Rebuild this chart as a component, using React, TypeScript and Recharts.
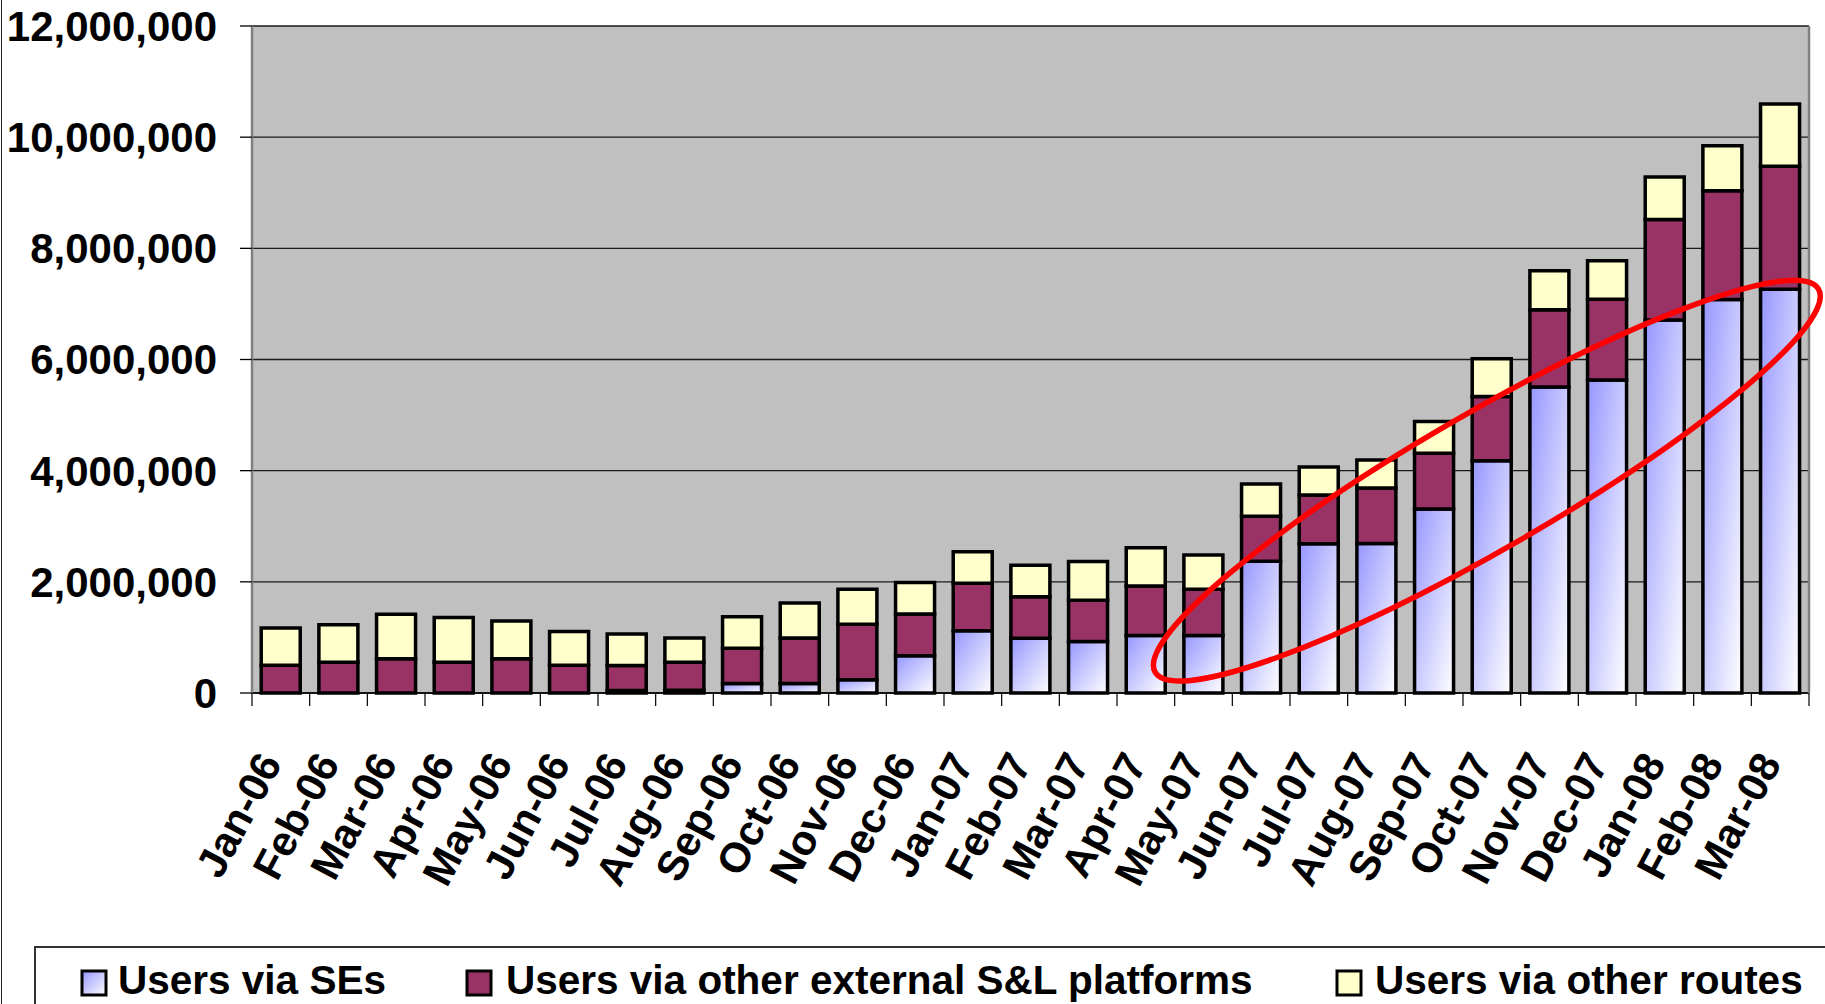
import React from 'react';
import { BarChart, Bar, XAxis, YAxis, CartesianGrid, ReferenceDot } from 'recharts';

// ---------- data ----------
const months = [
  'Jan-06', 'Feb-06', 'Mar-06', 'Apr-06', 'May-06', 'Jun-06', 'Jul-06', 'Aug-06', 'Sep-06',
  'Oct-06', 'Nov-06', 'Dec-06', 'Jan-07', 'Feb-07', 'Mar-07', 'Apr-07', 'May-07', 'Jun-07',
  'Jul-07', 'Aug-07', 'Sep-07', 'Oct-07', 'Nov-07', 'Dec-07', 'Jan-08', 'Feb-08', 'Mar-08',
];

const usersViaSEs = [
  0, 0, 0, 0, 0, 0, 45000, 50000, 170000,
  170000, 240000, 670000, 1120000, 985000, 925000, 1035000, 1035000, 2370000,
  2685000, 2690000, 3310000, 4180000, 5505000, 5630000, 6710000, 7080000, 7265000,
];

const usersViaOtherSL = [
  500000, 555000, 615000, 555000, 615000, 500000, 450000, 505000, 635000,
  820000, 995000, 750000, 855000, 745000, 745000, 890000, 830000, 810000,
  875000, 1000000, 1005000, 1155000, 1390000, 1455000, 1810000, 1955000, 2210000,
];

const usersViaOtherRoutes = [
  670000, 675000, 800000, 805000, 680000, 605000, 565000, 435000, 565000,
  630000, 630000, 570000, 565000, 570000, 695000, 690000, 620000, 580000,
  505000, 500000, 570000, 680000, 700000, 690000, 765000, 810000, 1120000,
];

const yTicks = [0, 2000000, 4000000, 6000000, 8000000, 10000000, 12000000];

const seriesNames = ['Users via SEs', 'Users via other external S&L platforms', 'Users via other routes'];

// annotation ellipse centre (category, value)
const ellipseCentreMonth = 'Oct-07';
const ellipseCentreValue = 3820000;

const data = months.map((m, i) => ({
  month: m,
  se: usersViaSEs[i],
  sl: usersViaOtherSL[i],
  other: usersViaOtherRoutes[i],
}));

// ---------- layout ----------
const W = 1825;
const H = 1004;
const Y_W = 252;
const R_W = 16;
const CAT_HALF = (W - Y_W - R_W) / months.length / 2;
const FONT = '"Liberation Sans", Arial, Helvetica, sans-serif';

const fmt = (v: number) => v.toLocaleString('en-US');

const MonthTick = (props: any) => {
  const { x, y, payload, index } = props;
  const isLast = index === months.length - 1;
  const tx = x + 2;
  const ty = y + 70;
  return (
    <g>
      <line x1={x - CAT_HALF} y1={y} x2={x - CAT_HALF} y2={y + 13} stroke="#000" strokeWidth={1.2} />
      {isLast && <line x1={x + CAT_HALF} y1={y} x2={x + CAT_HALF} y2={y + 13} stroke="#000" strokeWidth={1.2} />}
      <text
        x={tx}
        y={ty}
        transform={`rotate(-62 ${tx} ${ty})`}
        textAnchor="end"
        fontFamily={FONT}
        fontWeight="bold"
        fontSize={42}
        fill="#000"
      >
        {payload.value}
      </text>
    </g>
  );
};

const EllipseShape = (p: any) => {
  const cx = p.cx - 5;
  const cy = p.cy;
  return (
    <ellipse
      cx={cx}
      cy={cy}
      rx={383}
      ry={68}
      transform={`rotate(-30 ${cx} ${cy})`}
      fill="none"
      stroke="#FF0000"
      strokeWidth={5.5}
    />
  );
};

const legendItems = [
  { name: seriesNames[0], fill: 'url(#seGradLegend)', mx: 82, tx: 118 },
  { name: seriesNames[1], fill: '#993366', mx: 467, tx: 506 },
  { name: seriesNames[2], fill: '#FFFFCC', mx: 1337, tx: 1375 },
];

export default function App() {
  return (
    <div style={{ position: 'absolute', left: 0, top: 0, width: W, height: H, background: '#fff', overflow: 'hidden' }}>
      <BarChart
        width={W}
        height={H}
        data={data}
        margin={{ top: 26, right: 0, left: 0, bottom: 71 }}
        barCategoryGap="16%"
      >
        <defs>
          <linearGradient id="seGrad" x1="0" y1="0" x2="1" y2="1">
            <stop offset="0%" stopColor="#9696FF" />
            <stop offset="100%" stopColor="#FFFFFF" />
          </linearGradient>
        </defs>
        <CartesianGrid vertical={false} fill="#C0C0C0" stroke="#1a1a1a" strokeWidth={1.3} />
        <XAxis
          dataKey="month"
          height={240}
          interval={0}
          tickLine={false}
          tickSize={0}
          tickMargin={0}
          axisLine={{ stroke: '#000', strokeWidth: 1.3 }}
          tick={<MonthTick />}
        />
        <YAxis
          width={Y_W}
          domain={[0, 12000000]}
          ticks={yTicks}
          interval={0}
          tickFormatter={fmt}
          tickSize={12}
          tickMargin={23}
          tickLine={{ stroke: '#000', strokeWidth: 1.3 }}
          axisLine={{ stroke: '#808080', strokeWidth: 2.5 }}
          tick={{ fontFamily: FONT, fontWeight: 'bold', fontSize: 42, fill: '#000' }}
        />
        <YAxis
          yAxisId="right"
          orientation="right"
          width={R_W}
          tick={false}
          tickLine={false}
          axisLine={{ stroke: '#808080', strokeWidth: 2.5 }}
        />
        <Bar dataKey="se" name={seriesNames[0]} stackId="a" fill="url(#seGrad)" stroke="#000" strokeWidth={3.5} isAnimationActive={false} />
        <Bar dataKey="sl" name={seriesNames[1]} stackId="a" fill="#993366" stroke="#000" strokeWidth={3.5} isAnimationActive={false} />
        <Bar dataKey="other" name={seriesNames[2]} stackId="a" fill="#FFFFCC" stroke="#000" strokeWidth={3.5} isAnimationActive={false} />
        <ReferenceDot
          x={ellipseCentreMonth}
          y={ellipseCentreValue}
          r={1}
          ifOverflow="visible"
          shape={EllipseShape}
        />
      </BarChart>

      {/* outer frame line on the left */}
      <div style={{ position: 'absolute', left: 1, top: 0, width: 1, height: H, background: '#222' }} />

      {/* legend */}
      <svg width={W} height={70} style={{ position: 'absolute', left: 0, top: 940 }}>
        <defs>
          <linearGradient id="seGradLegend" x1="0" y1="0" x2="1" y2="1">
            <stop offset="0%" stopColor="#9696FF" />
            <stop offset="100%" stopColor="#FFFFFF" />
          </linearGradient>
        </defs>
        <path d="M35,70 V7 H1830" fill="#fff" stroke="#333" strokeWidth={2} />
        {legendItems.map((it) => (
          <g key={it.name}>
            <rect x={it.mx} y={31} width={24} height={24} fill={it.fill} stroke="#000" strokeWidth={3} />
            <text x={it.tx} y={54} fontFamily={FONT} fontWeight="bold" fontSize={40.5} fill="#000">
              {it.name}
            </text>
          </g>
        ))}
      </svg>
    </div>
  );
}
